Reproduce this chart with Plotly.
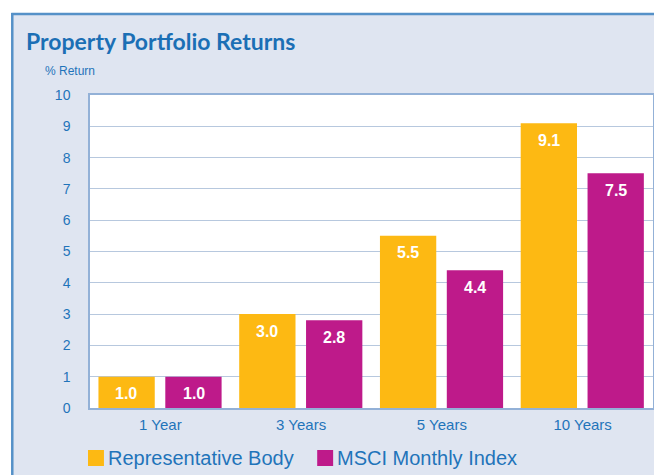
import plotly.graph_objects as go

categories = ["1 Year", "3 Years", "5 Years", "10 Years"]
rep_body = [1.0, 3.0, 5.5, 9.1]
msci = [1.0, 2.8, 4.4, 7.5]
series_names = ["Representative Body", "MSCI Monthly Index"]
series_colors = ["#FDB913", "#BE1A8A"]
y_ticks = list(range(0, 11))

# the page body adds an 8px offset; figure covers window px 8..662 x 8..475
OFF = 8
W, H = 662 - OFF, 475 - OFF
PL, PR, PT, PB = 90, 655, 95, 408          # plot area in window px
L, T = PL - OFF, PT - OFF
R, B = 662 - PR, 475 - PB
PW, PH = PR - PL, PB - PT

def px_x(x):
    return (x - PL) / PW

def px_y(y):
    return (PB - y) / PH

BLUE = "#1f74ba"
BAR_W = 0.40
OFFSETS = [-0.44, 0.035]

fig = go.Figure()
for name, vals, col, off in zip(series_names, [rep_body, msci], series_colors, OFFSETS):
    fig.add_trace(go.Bar(x=categories, y=vals, name=name, marker=dict(color=col, line=dict(width=0)),
                         width=BAR_W, offset=off, showlegend=False, hoverinfo="x+y"))

annotations = []
cat_px = PW / len(categories)
for vals, off in zip([rep_body, msci], OFFSETS):
    shift = (off + BAR_W / 2) * cat_px
    for c, v in zip(categories, vals):
        annotations.append(dict(x=c, y=v, xref="x", yref="y", text=f"<b>{v:.1f}</b>", showarrow=False,
                                xshift=shift, yshift=-17, yanchor="middle",
                                font=dict(family="Liberation Sans, Arial", size=16, color="white")))

annotations.append(dict(x=px_x(24), y=px_y(41), xref="paper", yref="paper", xanchor="left", yanchor="middle",
                        text="<b>Property Portfolio Returns</b>", showarrow=False,
                        font=dict(family="Lato", size=23, color="#1b6fb5")))
annotations.append(dict(x=px_x(43), y=px_y(71), xref="paper", yref="paper", xanchor="left", yanchor="middle",
                        text="% Return", showarrow=False,
                        font=dict(family="Liberation Sans, Arial", size=12, color=BLUE)))

shapes = []
leg_x = [88, 318]
for name, col, lx in zip(series_names, series_colors, leg_x):
    shapes.append(dict(type="rect", xref="paper", yref="paper", x0=px_x(lx), x1=px_x(lx + 16),
                       y0=px_y(466), y1=px_y(450), fillcolor=col, line=dict(width=0)))
    annotations.append(dict(x=px_x(lx + 18), y=px_y(458), xref="paper", yref="paper", xanchor="left",
                            yanchor="middle", text=name, showarrow=False,
                            font=dict(family="Liberation Sans, Arial", size=20, color=BLUE)))

# white page margin and panel border
shapes.append(dict(type="rect", xref="paper", yref="paper", x0=px_x(-5), x1=px_x(670), y0=px_y(13), y1=px_y(-5),
                   fillcolor="white", line=dict(width=0), layer="below"))
shapes.append(dict(type="rect", xref="paper", yref="paper", x0=px_x(-5), x1=px_x(11), y0=px_y(480), y1=px_y(-5),
                   fillcolor="white", line=dict(width=0), layer="below"))
shapes.append(dict(type="line", xref="paper", yref="paper", x0=px_x(11), x1=px_x(670), y0=px_y(14), y1=px_y(14),
                   line=dict(color="#5591c8", width=2.5)))
shapes.append(dict(type="line", xref="paper", yref="paper", x0=px_x(12), x1=px_x(12), y0=px_y(13), y1=px_y(480),
                   line=dict(color="#5591c8", width=2.5)))

fig.update_layout(
    width=W, height=H,
    margin=dict(l=L, r=R, t=T, b=B, pad=0),
    paper_bgcolor="#dfe5f1",
    plot_bgcolor="white",
    showlegend=False,
    annotations=annotations,
    shapes=shapes,
    xaxis=dict(range=[-0.5, 3.5], showgrid=False, showline=True, mirror=True, linecolor="#93b1d7", linewidth=1.5,
               ticks="", tickfont=dict(family="Liberation Sans, Arial", size=15, color=BLUE),
               ticklabelstandoff=2, fixedrange=True),
    yaxis=dict(range=[0, 10], tickvals=y_ticks, showgrid=True, gridcolor="#b7c8de", gridwidth=1,
               showline=True, mirror=True, linecolor="#93b1d7", linewidth=1.5, zeroline=False,
               ticks="", tickfont=dict(family="Liberation Sans, Arial", size=14, color=BLUE),
               ticklabelstandoff=15, fixedrange=True),
)

fig.write_html("out.html")
